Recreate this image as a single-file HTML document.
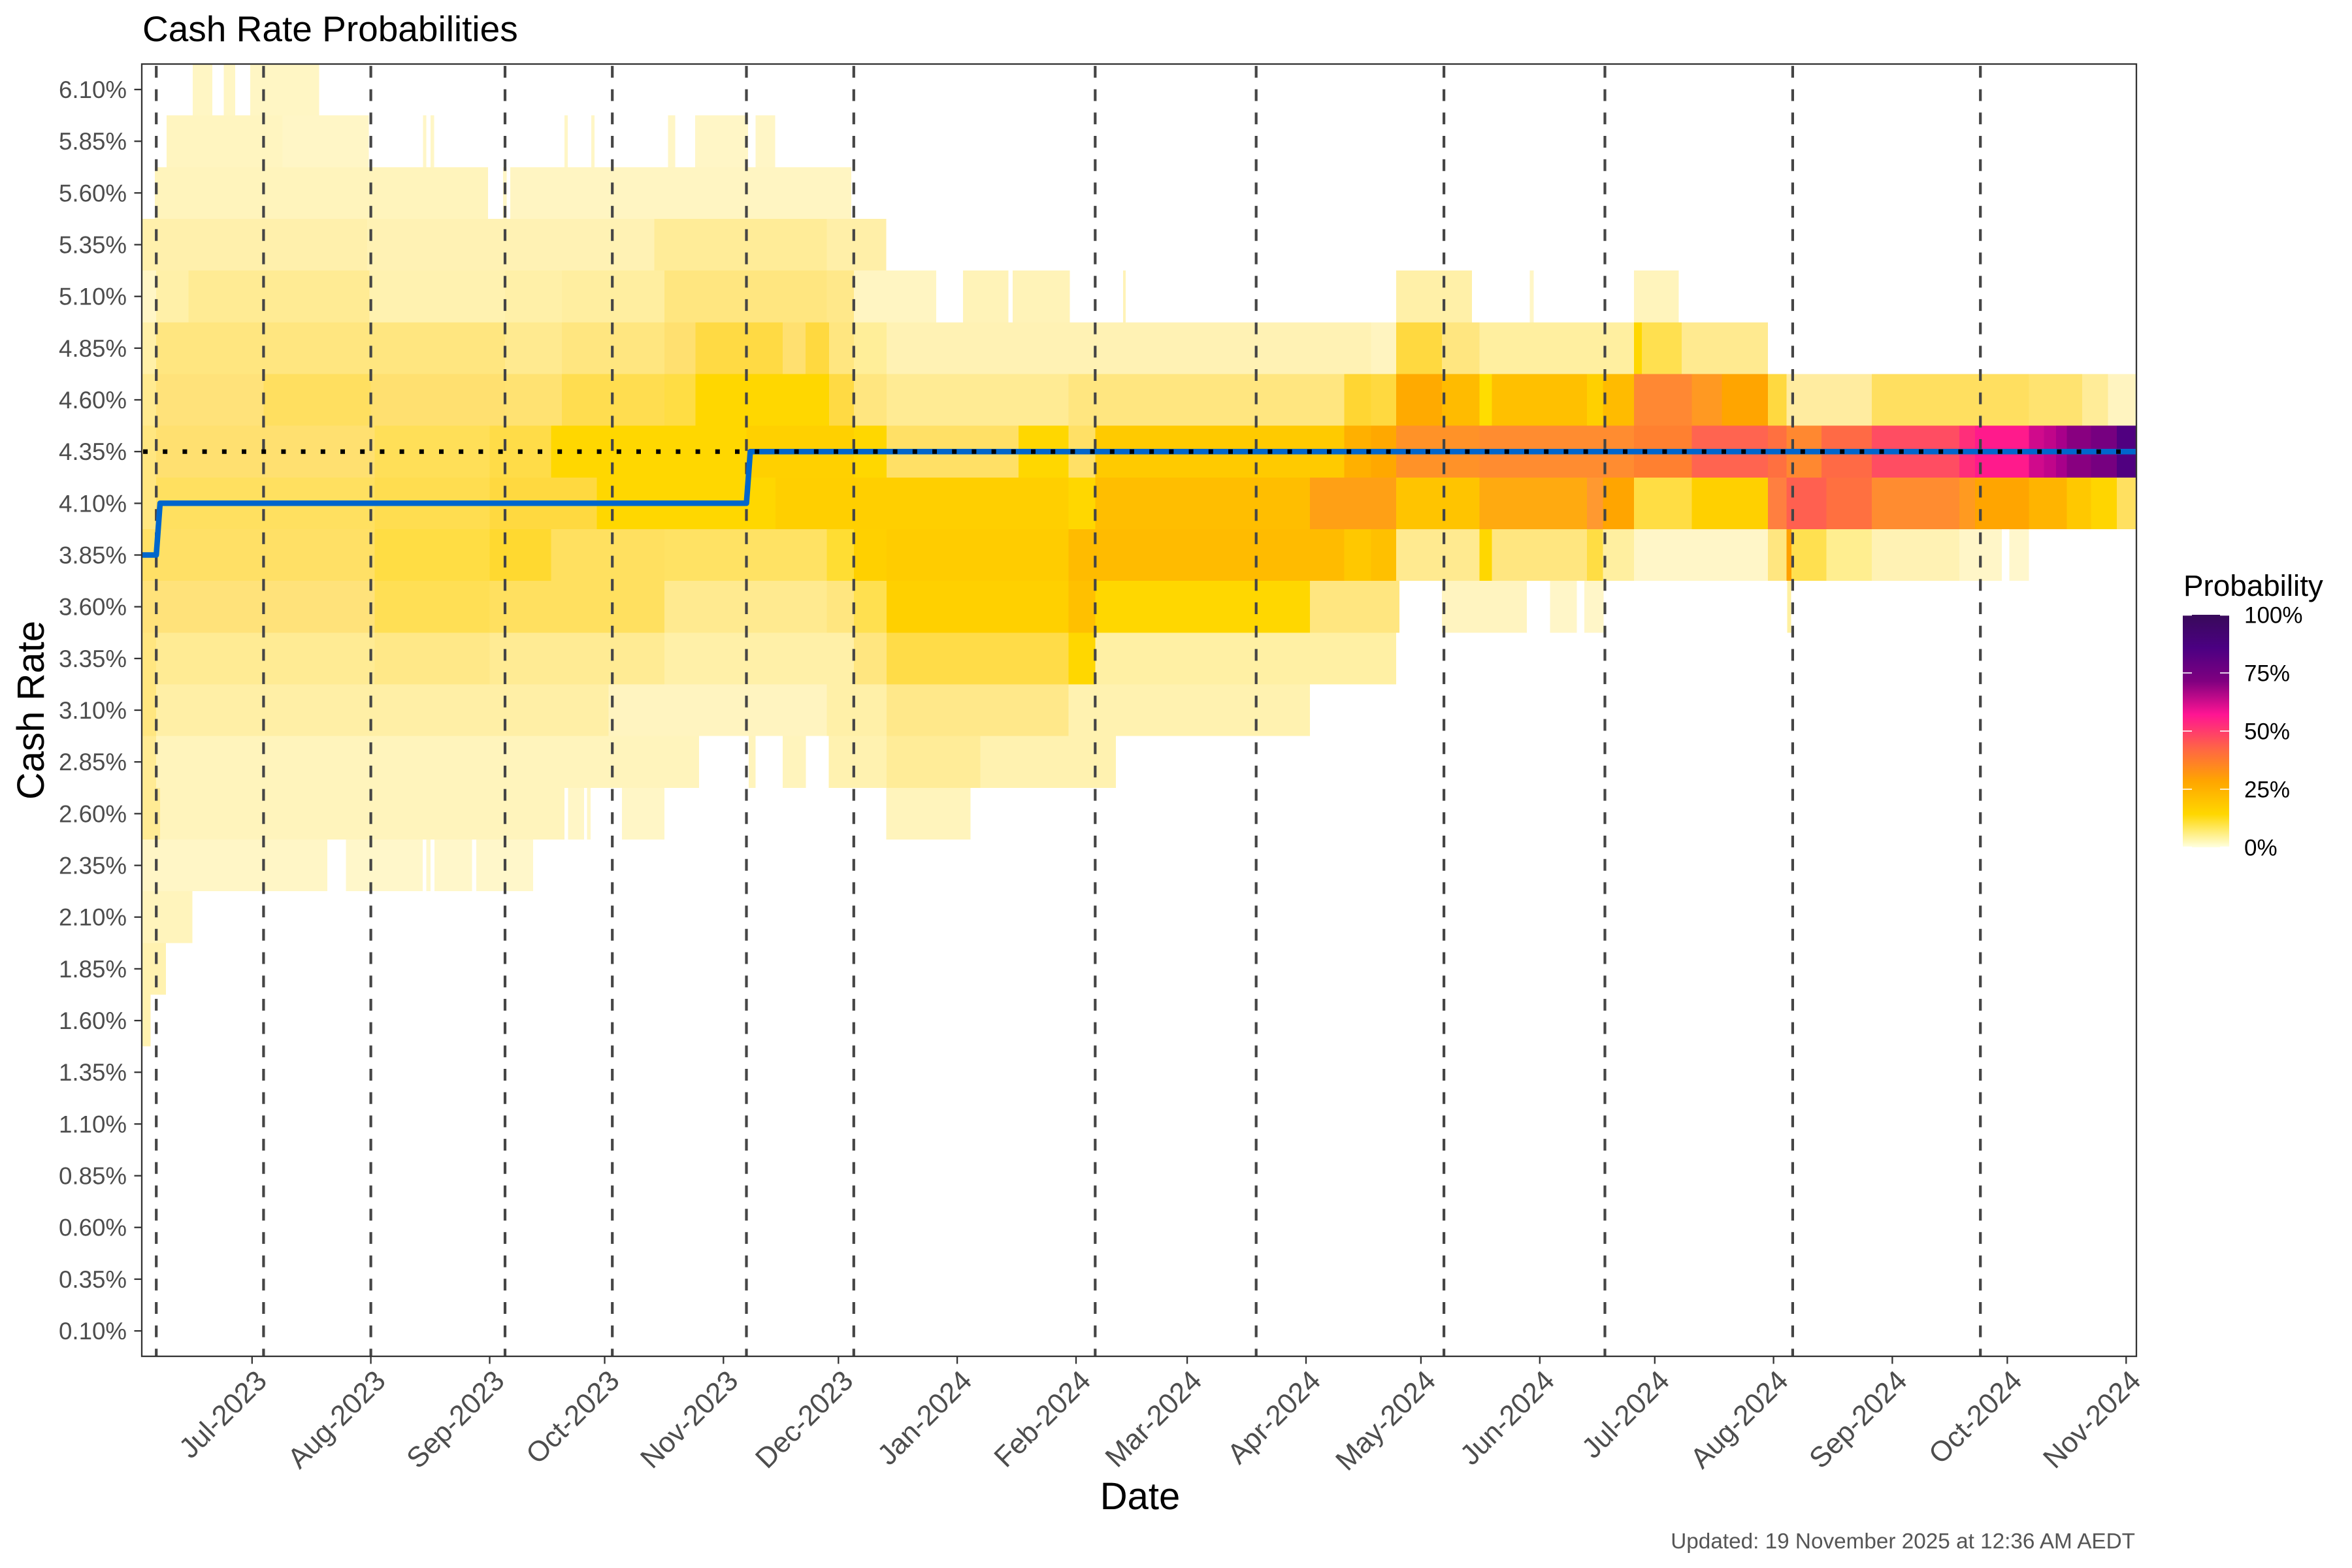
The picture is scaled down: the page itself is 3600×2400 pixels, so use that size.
<!DOCTYPE html>
<html>
<head>
<meta charset="utf-8">
<style>
html,body{margin:0;padding:0;background:#fff;}
svg{display:block;}
</style>
</head>
<body>
<svg xmlns="http://www.w3.org/2000/svg" width="3600" height="2400" viewBox="0 0 3600 2400" font-family="'Liberation Sans', Arial, Helvetica, sans-serif">
<defs>
<clipPath id="pc"><rect x="217" y="98" width="3053" height="1978"/></clipPath>
<linearGradient id="lg" x1="0" y1="1" x2="0" y2="0">
<stop offset="0" stop-color="#FFFFE0"/>
<stop offset="0.1429" stop-color="#FFD700"/>
<stop offset="0.2857" stop-color="#FFA500"/>
<stop offset="0.4286" stop-color="#FF6347"/>
<stop offset="0.5714" stop-color="#FF1493"/>
<stop offset="0.7143" stop-color="#800080"/>
<stop offset="0.8571" stop-color="#4B0082"/>
<stop offset="1" stop-color="#380A5A"/>
</linearGradient>
</defs>
<rect width="3600" height="2400" fill="#fff"/>

<!-- Title -->
<text x="218" y="63" font-size="55" fill="#000">Cash Rate Probabilities</text>

<!-- Heatmap tiles -->
<g clip-path="url(#pc)">
<g transform="matrix(5.866 0 0 79.17 385.8 97.415)" shape-rendering="crispEdges">
<!-- row 0 : 6.10 -->
<rect x="-15.5" y="0" width="5.1" height="1" fill="#FFF6C4"/>
<rect x="-7.4" y="0" width="3" height="1" fill="#FFF6C4"/>
<rect x="-0.5" y="0" width="18" height="1" fill="#FFF6C4"/>
<!-- row 1 : 5.85 -->
<rect x="-22.3" y="1" width="30.3" height="1" fill="#FFF5C0"/>
<rect x="8" y="1" width="22.5" height="1" fill="#FFF6C6"/>
<rect x="44.6" y="1" width="0.9" height="1" fill="#FFF6C6"/>
<rect x="46.6" y="1" width="0.9" height="1" fill="#FFF6C6"/>
<rect x="81.5" y="1" width="0.9" height="1" fill="#FFF6C6"/>
<rect x="88.5" y="1" width="0.9" height="1" fill="#FFF6C6"/>
<rect x="108.5" y="1" width="1.9" height="1" fill="#FFF6C6"/>
<rect x="115.6" y="1" width="13.8" height="1" fill="#FFF6C6"/>
<rect x="131.4" y="1" width="5.1" height="1" fill="#FFF6C6"/>
<!-- row 2 : 5.60 -->
<rect x="-25.4" y="2" width="87" height="1" fill="#FFF4BC"/>
<rect x="65.5" y="2" width="0.9" height="1" fill="#FFF6C6"/>
<rect x="67.4" y="2" width="89" height="1" fill="#FFF5C2"/>
<!-- row 3 : 5.35 -->
<rect x="-28.8" y="3" width="58.8" height="1" fill="#FFF0AC"/>
<rect x="30" y="3" width="75" height="1" fill="#FFF2B4"/>
<rect x="105" y="3" width="45" height="1" fill="#FFEC98"/>
<rect x="150" y="3" width="15.5" height="1" fill="#FFEFA8"/>
<!-- row 4 : 5.10 -->
<rect x="-28.8" y="4" width="3.8" height="1" fill="#FFF6C6"/>
<rect x="-25" y="4" width="8.4" height="1" fill="#FFF0A8"/>
<rect x="-16.6" y="4" width="47.2" height="1" fill="#FFEB94"/>
<rect x="30.6" y="4" width="35.4" height="1" fill="#FFF2B0"/>
<rect x="66" y="4" width="14.8" height="1" fill="#FFF0A8"/>
<rect x="80.8" y="4" width="26.8" height="1" fill="#FFEEA0"/>
<rect x="107.6" y="4" width="42.4" height="1" fill="#FFE680"/>
<rect x="150" y="4" width="7" height="1" fill="#FFE88A"/>
<rect x="157" y="4" width="21.5" height="1" fill="#FFF5C2"/>
<rect x="185.5" y="4" width="11.9" height="1" fill="#FFF3B8"/>
<rect x="198.5" y="4" width="14.9" height="1" fill="#FFF3B8"/>
<rect x="227.3" y="4" width="0.7" height="1" fill="#FFF3B8"/>
<rect x="298.5" y="4" width="19.8" height="1" fill="#FFF0A8"/>
<rect x="333.4" y="4" width="1" height="1" fill="#FFF6C6"/>
<rect x="360.6" y="4" width="11.7" height="1" fill="#FFF4BC"/>
<!-- row 5 : 4.85 -->
<rect x="-28.8" y="5" width="3.8" height="1" fill="#FFF0A8"/>
<rect x="-25" y="5" width="91" height="1" fill="#FFE680"/>
<rect x="66" y="5" width="14.8" height="1" fill="#FFEA90"/>
<rect x="80.8" y="5" width="26.8" height="1" fill="#FFE680"/>
<rect x="107.6" y="5" width="8.1" height="1" fill="#FFE070"/>
<rect x="115.7" y="5" width="22.8" height="1" fill="#FFDA44"/>
<rect x="138.5" y="5" width="5.9" height="1" fill="#FFE070"/>
<rect x="144.4" y="5" width="6.2" height="1" fill="#FFD940"/>
<rect x="150.6" y="5" width="6.4" height="1" fill="#FFE680"/>
<rect x="157" y="5" width="8.6" height="1" fill="#FFEE99"/>
<rect x="165.6" y="5" width="126.4" height="1" fill="#FFF2B4"/>
<rect x="292" y="5" width="6.5" height="1" fill="#FFF4C0"/>
<rect x="298.5" y="5" width="12" height="1" fill="#FFD940"/>
<rect x="310.5" y="5" width="9.8" height="1" fill="#FFE680"/>
<rect x="320.3" y="5" width="40.3" height="1" fill="#FFEFA0"/>
<rect x="360.6" y="5" width="2" height="1" fill="#FFD700"/>
<rect x="362.6" y="5" width="10.4" height="1" fill="#FFE050"/>
<rect x="373" y="5" width="22.5" height="1" fill="#FFEA90"/>
<!-- row 6 : 4.60 -->
<rect x="-28.8" y="6" width="3.8" height="1" fill="#FFEA90"/>
<rect x="-25" y="6" width="28" height="1" fill="#FFE27A"/>
<rect x="3" y="6" width="28" height="1" fill="#FFDF60"/>
<rect x="31" y="6" width="35" height="1" fill="#FFE070"/>
<rect x="66" y="6" width="14.8" height="1" fill="#FFE272"/>
<rect x="80.8" y="6" width="26.8" height="1" fill="#FFDD50"/>
<rect x="107.6" y="6" width="8.1" height="1" fill="#FFDD44"/>
<rect x="115.7" y="6" width="34.9" height="1" fill="#FFD700"/>
<rect x="150.6" y="6" width="6.4" height="1" fill="#FFDA44"/>
<rect x="157" y="6" width="8.6" height="1" fill="#FFE680"/>
<rect x="165.6" y="6" width="47.4" height="1" fill="#FFEB94"/>
<rect x="213" y="6" width="72" height="1" fill="#FFE680"/>
<rect x="285" y="6" width="7" height="1" fill="#FFD633"/>
<rect x="292" y="6" width="6.5" height="1" fill="#FFD940"/>
<rect x="298.5" y="6" width="12" height="1" fill="#FFAA00"/>
<rect x="310.5" y="6" width="9.8" height="1" fill="#FFBB00"/>
<rect x="320.3" y="6" width="3.2" height="1" fill="#FFDD00"/>
<rect x="323.5" y="6" width="24.8" height="1" fill="#FFC000"/>
<rect x="348.3" y="6" width="4.2" height="1" fill="#FFD000"/>
<rect x="352.5" y="6" width="8.1" height="1" fill="#FFBB00"/>
<rect x="360.6" y="6" width="15.1" height="1" fill="#FF8833"/>
<rect x="375.7" y="6" width="7.8" height="1" fill="#FF9922"/>
<rect x="383.5" y="6" width="12" height="1" fill="#FFA500"/>
<rect x="395.5" y="6" width="4.9" height="1" fill="#FFD940"/>
<rect x="400.4" y="6" width="22.2" height="1" fill="#FFECA0"/>
<rect x="422.6" y="6" width="41" height="1" fill="#FFDF60"/>
<rect x="463.6" y="6" width="13.9" height="1" fill="#FFE370"/>
<rect x="477.5" y="6" width="6.8" height="1" fill="#FFEC98"/>
<rect x="484.3" y="6" width="7.6" height="1" fill="#FFF4C0"/>
<!-- row 7 : 4.35 -->
<rect x="-28.8" y="7" width="3.8" height="1" fill="#FFE680"/>
<rect x="-25" y="7" width="57" height="1" fill="#FFE070"/>
<rect x="32" y="7" width="30" height="1" fill="#FFDF58"/>
<rect x="62" y="7" width="16" height="1" fill="#FFDC48"/>
<rect x="78" y="7" width="51" height="1" fill="#FFD700"/>
<rect x="129" y="7" width="28" height="1" fill="#FFD000"/>
<rect x="157" y="7" width="8.6" height="1" fill="#FFD700"/>
<rect x="165.6" y="7" width="34.4" height="1" fill="#FFE066"/>
<rect x="200" y="7" width="13" height="1" fill="#FFD700"/>
<rect x="213" y="7" width="7" height="1" fill="#FFE066"/>
<rect x="220" y="7" width="65" height="1" fill="#FFCA00"/>
<rect x="285" y="7" width="7" height="1" fill="#FFB000"/>
<rect x="292" y="7" width="6.5" height="1" fill="#FFA800"/>
<rect x="298.5" y="7" width="21.8" height="1" fill="#FF9228"/>
<rect x="320.3" y="7" width="40.3" height="1" fill="#FF8C30"/>
<rect x="360.6" y="7" width="15.1" height="1" fill="#FF8030"/>
<rect x="375.7" y="7" width="19.8" height="1" fill="#FF6450"/>
<rect x="395.5" y="7" width="4.9" height="1" fill="#FF7040"/>
<rect x="400.4" y="7" width="9.1" height="1" fill="#FF8830"/>
<rect x="409.5" y="7" width="13.1" height="1" fill="#FF6A45"/>
<rect x="422.6" y="7" width="22.9" height="1" fill="#FF4D62"/>
<rect x="445.5" y="7" width="4.1" height="1" fill="#FF2E7A"/>
<rect x="449.6" y="7" width="14" height="1" fill="#FF1A8C"/>
<rect x="463.6" y="7" width="4" height="1" fill="#D00A8C"/>
<rect x="467.6" y="7" width="3.1" height="1" fill="#C0058A"/>
<rect x="470.7" y="7" width="2.8" height="1" fill="#A8008A"/>
<rect x="473.5" y="7" width="6.3" height="1" fill="#880080"/>
<rect x="479.8" y="7" width="6.8" height="1" fill="#760080"/>
<rect x="486.6" y="7" width="5.3" height="1" fill="#500080"/>
<!-- row 8 : 4.10 -->
<rect x="-28.8" y="8" width="3.8" height="1" fill="#FFE680"/>
<rect x="-25" y="8" width="57" height="1" fill="#FFE060"/>
<rect x="32" y="8" width="30" height="1" fill="#FFDD50"/>
<rect x="62" y="8" width="28" height="1" fill="#FFD940"/>
<rect x="90" y="8" width="46.6" height="1" fill="#FFD700"/>
<rect x="136.6" y="8" width="76.4" height="1" fill="#FFCF00"/>
<rect x="213" y="8" width="7" height="1" fill="#FFD700"/>
<rect x="220" y="8" width="56" height="1" fill="#FFBE00"/>
<rect x="276" y="8" width="22.5" height="1" fill="#FFA015"/>
<rect x="298.5" y="8" width="21.8" height="1" fill="#FFC400"/>
<rect x="320.3" y="8" width="28" height="1" fill="#FFAA10"/>
<rect x="348.3" y="8" width="4.2" height="1" fill="#FF9930"/>
<rect x="352.5" y="8" width="8.1" height="1" fill="#FFA500"/>
<rect x="360.6" y="8" width="15.1" height="1" fill="#FFDD44"/>
<rect x="375.7" y="8" width="19.8" height="1" fill="#FFD000"/>
<rect x="395.5" y="8" width="4.9" height="1" fill="#FF7F40"/>
<rect x="400.4" y="8" width="10.4" height="1" fill="#FF6050"/>
<rect x="410.8" y="8" width="11.8" height="1" fill="#FF7040"/>
<rect x="422.6" y="8" width="22.9" height="1" fill="#FF8C30"/>
<rect x="445.5" y="8" width="4.1" height="1" fill="#FF9A20"/>
<rect x="449.6" y="8" width="14" height="1" fill="#FFA500"/>
<rect x="463.6" y="8" width="9.9" height="1" fill="#FFB400"/>
<rect x="473.5" y="8" width="6.3" height="1" fill="#FFC800"/>
<rect x="479.8" y="8" width="6.8" height="1" fill="#FFD500"/>
<rect x="486.6" y="8" width="5.3" height="1" fill="#FFE060"/>
<!-- row 9 : 3.85 -->
<rect x="-28.8" y="9" width="60.8" height="1" fill="#FFE066"/>
<rect x="32" y="9" width="30" height="1" fill="#FFDD44"/>
<rect x="62" y="9" width="16" height="1" fill="#FFD930"/>
<rect x="78" y="9" width="29.6" height="1" fill="#FFE060"/>
<rect x="107.6" y="9" width="42.4" height="1" fill="#FFE264"/>
<rect x="150" y="9" width="7" height="1" fill="#FFDD33"/>
<rect x="157" y="9" width="8.6" height="1" fill="#FFD000"/>
<rect x="165.6" y="9" width="47.4" height="1" fill="#FFCC00"/>
<rect x="213" y="9" width="72" height="1" fill="#FFBB00"/>
<rect x="285" y="9" width="7" height="1" fill="#FFC800"/>
<rect x="292" y="9" width="6.5" height="1" fill="#FFC000"/>
<rect x="298.5" y="9" width="21.8" height="1" fill="#FFEA90"/>
<rect x="320.3" y="9" width="3.2" height="1" fill="#FFD700"/>
<rect x="323.5" y="9" width="24.8" height="1" fill="#FFE680"/>
<rect x="348.3" y="9" width="4.2" height="1" fill="#FFDD44"/>
<rect x="352.5" y="9" width="8.1" height="1" fill="#FFEFA0"/>
<rect x="360.6" y="9" width="34.9" height="1" fill="#FFF6C8"/>
<rect x="395.5" y="9" width="4.9" height="1" fill="#FFE680"/>
<rect x="400.4" y="9" width="1.3" height="1" fill="#FFA000"/>
<rect x="401.7" y="9" width="9.1" height="1" fill="#FFE050"/>
<rect x="410.8" y="9" width="11.8" height="1" fill="#FFEE90"/>
<rect x="422.6" y="9" width="22.9" height="1" fill="#FFF2B4"/>
<rect x="445.5" y="9" width="11.1" height="1" fill="#FFF6C8"/>
<rect x="458.5" y="9" width="5.1" height="1" fill="#FFF7CC"/>
<!-- row 10 : 3.60 -->
<rect x="-28.8" y="10" width="60.8" height="1" fill="#FFE27A"/>
<rect x="32" y="10" width="30" height="1" fill="#FFDF55"/>
<rect x="62" y="10" width="45.6" height="1" fill="#FFE060"/>
<rect x="107.6" y="10" width="42.4" height="1" fill="#FFEA90"/>
<rect x="150" y="10" width="7" height="1" fill="#FFE680"/>
<rect x="157" y="10" width="8.6" height="1" fill="#FFE050"/>
<rect x="165.6" y="10" width="47.4" height="1" fill="#FFD000"/>
<rect x="213" y="10" width="7" height="1" fill="#FFC000"/>
<rect x="220" y="10" width="56" height="1" fill="#FFD700"/>
<rect x="276" y="10" width="23.4" height="1" fill="#FFE680"/>
<rect x="310.5" y="10" width="22.1" height="1" fill="#FFF4C0"/>
<rect x="338.7" y="10" width="7" height="1" fill="#FFF6C8"/>
<rect x="347.6" y="10" width="5.1" height="1" fill="#FFF6C8"/>
<rect x="400.6" y="10" width="1" height="1" fill="#FFF0A0"/>
<!-- row 11 : 3.35 -->
<rect x="-28.8" y="11" width="3.8" height="1" fill="#FFE680"/>
<rect x="-25" y="11" width="57" height="1" fill="#FFEB94"/>
<rect x="32" y="11" width="30" height="1" fill="#FFE888"/>
<rect x="62" y="11" width="45.6" height="1" fill="#FFEB94"/>
<rect x="107.6" y="11" width="49.4" height="1" fill="#FFF0A8"/>
<rect x="157" y="11" width="8.6" height="1" fill="#FFE680"/>
<rect x="165.6" y="11" width="47.4" height="1" fill="#FFDC48"/>
<rect x="213" y="11" width="7" height="1" fill="#FFD700"/>
<rect x="220" y="11" width="78.5" height="1" fill="#FFF0A4"/>
<!-- row 12 : 3.10 -->
<rect x="-28.8" y="12" width="3.8" height="1" fill="#FFE680"/>
<rect x="-25" y="12" width="118" height="1" fill="#FFEFA6"/>
<rect x="93" y="12" width="57" height="1" fill="#FFF4C0"/>
<rect x="150" y="12" width="15.6" height="1" fill="#FFF0A8"/>
<rect x="165.6" y="12" width="47.4" height="1" fill="#FFE88A"/>
<rect x="213" y="12" width="63" height="1" fill="#FFF2B0"/>
<!-- row 13 : 2.85 -->
<rect x="-28.8" y="13" width="3.8" height="1" fill="#FFEB94"/>
<rect x="-25" y="13" width="141.6" height="1" fill="#FFF4BC"/>
<rect x="129.6" y="13" width="1.8" height="1" fill="#FFF4BC"/>
<rect x="138.5" y="13" width="6" height="1" fill="#FFF4BC"/>
<rect x="150.5" y="13" width="15.1" height="1" fill="#FFF2B0"/>
<rect x="165.6" y="13" width="24.4" height="1" fill="#FFEC98"/>
<rect x="190" y="13" width="35.4" height="1" fill="#FFF2B0"/>
<!-- row 14 : 2.60 -->
<rect x="-28.8" y="14" width="4.8" height="1" fill="#FFEB94"/>
<rect x="-24" y="14" width="105.5" height="1" fill="#FFF4BC"/>
<rect x="82.5" y="14" width="4.1" height="1" fill="#FFF6C6"/>
<rect x="87.4" y="14" width="0.9" height="1" fill="#FFF6C6"/>
<rect x="96.5" y="14" width="11.1" height="1" fill="#FFF6C6"/>
<rect x="165.5" y="14" width="22" height="1" fill="#FFF4BC"/>
<!-- row 15 : 2.35 -->
<rect x="-28.8" y="15" width="48.4" height="1" fill="#FFF6C6"/>
<rect x="24.5" y="15" width="20" height="1" fill="#FFF7CA"/>
<rect x="45.5" y="15" width="1.1" height="1" fill="#FFF7CA"/>
<rect x="47.6" y="15" width="9.8" height="1" fill="#FFF7CA"/>
<rect x="58.5" y="15" width="14.8" height="1" fill="#FFF7CA"/>
<!-- row 16-18 -->
<rect x="-28.8" y="16" width="13.2" height="1" fill="#FFF4BC"/>
<rect x="-28.8" y="17" width="6.3" height="1" fill="#FFF2B0"/>
<rect x="-28.8" y="18" width="2.3" height="1" fill="#FFF2B0"/>
</g>
</g>

<!-- RBA meeting dashed lines -->
<g clip-path="url(#pc)" stroke="#454545" stroke-width="4.2" stroke-dasharray="18 17.7" fill="none">
<line x1="239.2" y1="100.9" x2="239.2" y2="2076"/>
<line x1="403.4" y1="100.9" x2="403.4" y2="2076"/>
<line x1="567.6" y1="100.9" x2="567.6" y2="2076"/>
<line x1="773.0" y1="100.9" x2="773.0" y2="2076"/>
<line x1="937.2" y1="100.9" x2="937.2" y2="2076"/>
<line x1="1142.5" y1="100.9" x2="1142.5" y2="2076"/>
<line x1="1306.8" y1="100.9" x2="1306.8" y2="2076"/>
<line x1="1676.3" y1="100.9" x2="1676.3" y2="2076"/>
<line x1="1922.7" y1="100.9" x2="1922.7" y2="2076"/>
<line x1="2210.1" y1="100.9" x2="2210.1" y2="2076"/>
<line x1="2456.5" y1="100.9" x2="2456.5" y2="2076"/>
<line x1="2743.9" y1="100.9" x2="2743.9" y2="2076"/>
<line x1="3031.2" y1="100.9" x2="3031.2" y2="2076"/>
</g>

<!-- Actual cash rate (blue) -->
<g clip-path="url(#pc)">
<path d="M212,849.5 L239.2,849.5 L245.0,770.3 L1142.5,770.3 L1148.4,691.2 L3275,691.2" fill="none" stroke="#0066CC" stroke-width="8.5" stroke-linejoin="round"/>
<!-- current rate dotted line -->
<line x1="219" y1="691.2" x2="3270" y2="691.2" stroke="#000" stroke-width="7" stroke-dasharray="7 23.2"/>
</g>

<!-- Panel border -->
<rect x="217" y="98" width="3053" height="1978" fill="none" stroke="#333333" stroke-width="2.3"/>

<!-- Y ticks -->
<g stroke="#333333" stroke-width="2.3">
<line x1="205.5" y1="137.0" x2="217" y2="137.0"/>
<line x1="205.5" y1="216.2" x2="217" y2="216.2"/>
<line x1="205.5" y1="295.3" x2="217" y2="295.3"/>
<line x1="205.5" y1="374.5" x2="217" y2="374.5"/>
<line x1="205.5" y1="453.7" x2="217" y2="453.7"/>
<line x1="205.5" y1="532.9" x2="217" y2="532.9"/>
<line x1="205.5" y1="612.0" x2="217" y2="612.0"/>
<line x1="205.5" y1="691.2" x2="217" y2="691.2"/>
<line x1="205.5" y1="770.4" x2="217" y2="770.4"/>
<line x1="205.5" y1="849.5" x2="217" y2="849.5"/>
<line x1="205.5" y1="928.7" x2="217" y2="928.7"/>
<line x1="205.5" y1="1007.9" x2="217" y2="1007.9"/>
<line x1="205.5" y1="1087.0" x2="217" y2="1087.0"/>
<line x1="205.5" y1="1166.2" x2="217" y2="1166.2"/>
<line x1="205.5" y1="1245.4" x2="217" y2="1245.4"/>
<line x1="205.5" y1="1324.6" x2="217" y2="1324.6"/>
<line x1="205.5" y1="1403.7" x2="217" y2="1403.7"/>
<line x1="205.5" y1="1482.9" x2="217" y2="1482.9"/>
<line x1="205.5" y1="1562.1" x2="217" y2="1562.1"/>
<line x1="205.5" y1="1641.2" x2="217" y2="1641.2"/>
<line x1="205.5" y1="1720.4" x2="217" y2="1720.4"/>
<line x1="205.5" y1="1799.6" x2="217" y2="1799.6"/>
<line x1="205.5" y1="1878.7" x2="217" y2="1878.7"/>
<line x1="205.5" y1="1957.9" x2="217" y2="1957.9"/>
<line x1="205.5" y1="2037.1" x2="217" y2="2037.1"/>
</g>

<!-- Y labels -->
<g font-size="36.7" fill="#4D4D4D" text-anchor="end">
<text x="194" y="150.0">6.10%</text>
<text x="194" y="229.2">5.85%</text>
<text x="194" y="308.3">5.60%</text>
<text x="194" y="387.5">5.35%</text>
<text x="194" y="466.7">5.10%</text>
<text x="194" y="545.9">4.85%</text>
<text x="194" y="625.0">4.60%</text>
<text x="194" y="704.2">4.35%</text>
<text x="194" y="783.4">4.10%</text>
<text x="194" y="862.5">3.85%</text>
<text x="194" y="941.7">3.60%</text>
<text x="194" y="1020.9">3.35%</text>
<text x="194" y="1100.0">3.10%</text>
<text x="194" y="1179.2">2.85%</text>
<text x="194" y="1258.4">2.60%</text>
<text x="194" y="1337.6">2.35%</text>
<text x="194" y="1416.7">2.10%</text>
<text x="194" y="1495.9">1.85%</text>
<text x="194" y="1575.1">1.60%</text>
<text x="194" y="1654.2">1.35%</text>
<text x="194" y="1733.4">1.10%</text>
<text x="194" y="1812.6">0.85%</text>
<text x="194" y="1891.7">0.60%</text>
<text x="194" y="1970.9">0.35%</text>
<text x="194" y="2050.1">0.10%</text>
</g>

<!-- X ticks -->
<g stroke="#333333" stroke-width="2.3">
<line x1="385.8" y1="2076" x2="385.8" y2="2087.5"/>
<line x1="567.6" y1="2076" x2="567.6" y2="2087.5"/>
<line x1="749.5" y1="2076" x2="749.5" y2="2087.5"/>
<line x1="925.5" y1="2076" x2="925.5" y2="2087.5"/>
<line x1="1107.3" y1="2076" x2="1107.3" y2="2087.5"/>
<line x1="1283.3" y1="2076" x2="1283.3" y2="2087.5"/>
<line x1="1465.1" y1="2076" x2="1465.1" y2="2087.5"/>
<line x1="1647.0" y1="2076" x2="1647.0" y2="2087.5"/>
<line x1="1817.1" y1="2076" x2="1817.1" y2="2087.5"/>
<line x1="1999.0" y1="2076" x2="1999.0" y2="2087.5"/>
<line x1="2174.9" y1="2076" x2="2174.9" y2="2087.5"/>
<line x1="2356.8" y1="2076" x2="2356.8" y2="2087.5"/>
<line x1="2532.8" y1="2076" x2="2532.8" y2="2087.5"/>
<line x1="2714.6" y1="2076" x2="2714.6" y2="2087.5"/>
<line x1="2896.4" y1="2076" x2="2896.4" y2="2087.5"/>
<line x1="3072.4" y1="2076" x2="3072.4" y2="2087.5"/>
<line x1="3254.3" y1="2076" x2="3254.3" y2="2087.5"/>
</g>

<!-- X labels -->
<g font-size="43.7" fill="#4D4D4D" text-anchor="end">
<text x="410.8" y="2116" transform="rotate(-45 410.8 2116)">Jul-2023</text>
<text x="592.6" y="2116" transform="rotate(-45 592.6 2116)">Aug-2023</text>
<text x="774.5" y="2116" transform="rotate(-45 774.5 2116)">Sep-2023</text>
<text x="950.5" y="2116" transform="rotate(-45 950.5 2116)">Oct-2023</text>
<text x="1132.3" y="2116" transform="rotate(-45 1132.3 2116)">Nov-2023</text>
<text x="1308.3" y="2116" transform="rotate(-45 1308.3 2116)">Dec-2023</text>
<text x="1490.1" y="2116" transform="rotate(-45 1490.1 2116)">Jan-2024</text>
<text x="1672.0" y="2116" transform="rotate(-45 1672.0 2116)">Feb-2024</text>
<text x="1842.1" y="2116" transform="rotate(-45 1842.1 2116)">Mar-2024</text>
<text x="2024.0" y="2116" transform="rotate(-45 2024.0 2116)">Apr-2024</text>
<text x="2199.9" y="2116" transform="rotate(-45 2199.9 2116)">May-2024</text>
<text x="2381.8" y="2116" transform="rotate(-45 2381.8 2116)">Jun-2024</text>
<text x="2557.8" y="2116" transform="rotate(-45 2557.8 2116)">Jul-2024</text>
<text x="2739.6" y="2116" transform="rotate(-45 2739.6 2116)">Aug-2024</text>
<text x="2921.4" y="2116" transform="rotate(-45 2921.4 2116)">Sep-2024</text>
<text x="3097.4" y="2116" transform="rotate(-45 3097.4 2116)">Oct-2024</text>
<text x="3279.3" y="2116" transform="rotate(-45 3279.3 2116)">Nov-2024</text>
</g>

<!-- Axis titles -->
<text x="1745" y="2310" font-size="58" fill="#000" text-anchor="middle">Date</text>
<text x="67" y="1087" font-size="58" fill="#000" text-anchor="middle" transform="rotate(-90 67 1087)">Cash Rate</text>

<!-- Legend -->
<text x="3342" y="912" font-size="45.8" fill="#000">Probability</text>
<rect x="3341" y="941" width="71" height="356" fill="url(#lg)"/>
<g stroke="#ffffff" stroke-width="1.6">
<line x1="3341" y1="941.5" x2="3355" y2="941.5"/><line x1="3398" y1="941.5" x2="3412" y2="941.5"/>
<line x1="3341" y1="1030" x2="3355" y2="1030"/><line x1="3398" y1="1030" x2="3412" y2="1030"/>
<line x1="3341" y1="1119" x2="3355" y2="1119"/><line x1="3398" y1="1119" x2="3412" y2="1119"/>
<line x1="3341" y1="1208" x2="3355" y2="1208"/><line x1="3398" y1="1208" x2="3412" y2="1208"/>
<line x1="3341" y1="1296.5" x2="3355" y2="1296.5"/><line x1="3398" y1="1296.5" x2="3412" y2="1296.5"/>
</g>
<g font-size="35" fill="#000">
<text x="3435" y="953.6">100%</text>
<text x="3435" y="1042.6">75%</text>
<text x="3435" y="1131.6">50%</text>
<text x="3435" y="1220.6">25%</text>
<text x="3435" y="1309.6">0%</text>
</g>

<!-- Caption -->
<text x="3268" y="2370" font-size="33.3" fill="#555555" text-anchor="end">Updated: 19 November 2025 at 12:36 AM AEDT</text>
</svg>
</body>
</html>
